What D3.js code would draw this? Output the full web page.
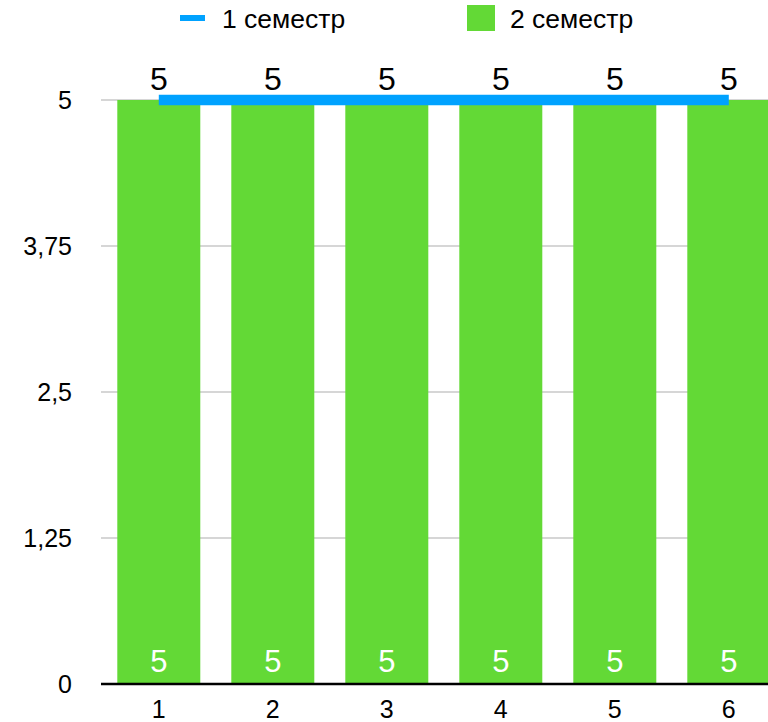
<!DOCTYPE html>
<html><head><meta charset="utf-8">
<script src="https://cdn.jsdelivr.net/npm/d3@7"></script>
<style>html,body{margin:0;padding:0;background:#fff;overflow:hidden}</style>
</head><body>
<script>
const categories = ["1","2","3","4","5","6"];
const semester1 = [5,5,5,5,5,5];
const semester2 = [5,5,5,5,5,5];
const yTicks = [0,1.25,2.5,3.75,5];
const seriesNames = ["1 семестр","2 семестр"];

const W=768,H=722;
const font="'Liberation Sans', Arial, sans-serif";
const svg=d3.select("body").append("svg").attr("width",W).attr("height",H).style("font-family",font);

const x=d3.scaleBand().domain(categories).range([101,786.6]).paddingInner(0.272).paddingOuter(0.143);
const y=d3.scaleLinear().domain([0,5]).range([684,100]);
const fmt=d=>String(d).replace(".",",");

// gridlines
svg.append("g").selectAll("line").data(yTicks.filter(d=>d>0)).join("line")
  .attr("x1",101).attr("x2",W).attr("y1",d=>y(d)).attr("y2",d=>y(d))
  .attr("stroke","#c8c8c8").attr("stroke-width",1.5);

// y labels
svg.append("g").selectAll("text").data(yTicks).join("text")
  .attr("x",72).attr("y",d=>y(d)).attr("dy","0.36em").attr("text-anchor","end")
  .attr("font-size",25).attr("fill","#000").text(fmt);

// bars
svg.append("g").selectAll("rect").data(semester2).join("rect")
  .attr("x",(d,i)=>x(categories[i])).attr("width",x.bandwidth())
  .attr("y",d=>y(d)).attr("height",d=>y(0)-y(d)).attr("fill","#63d936");

// bar labels (white, bottom)
svg.append("g").selectAll("text").data(semester2).join("text")
  .attr("x",(d,i)=>x(categories[i])+x.bandwidth()/2).attr("y",672)
  .attr("text-anchor","middle").attr("font-size",31).attr("fill","#fff").text(d=>d);

// axis line
svg.append("line").attr("x1",101).attr("x2",W).attr("y1",y(0)).attr("y2",y(0))
  .attr("stroke","#000").attr("stroke-width",2.5);

// x labels
svg.append("g").selectAll("text").data(categories).join("text")
  .attr("x",d=>x(d)+x.bandwidth()/2).attr("y",718)
  .attr("text-anchor","middle").attr("font-size",25).attr("fill","#000").text(d=>d);

// line series
const line=d3.line().x((d,i)=>x(categories[i])+x.bandwidth()/2).y(d=>y(d));
svg.append("path").datum(semester1).attr("d",line).attr("fill","none")
  .attr("stroke","#00a2ff").attr("stroke-width",10.5);

// line labels
svg.append("g").selectAll("text").data(semester1).join("text")
  .attr("x",(d,i)=>x(categories[i])+x.bandwidth()/2).attr("y",d=>y(d)-10)
  .attr("text-anchor","middle").attr("font-size",32).attr("fill","#000").text(d=>d);

// legend
const lg=svg.append("g");
lg.append("line").attr("x1",180).attr("x2",205).attr("y1",18).attr("y2",18)
  .attr("stroke","#00a2ff").attr("stroke-width",6);
lg.append("text").attr("x",222).attr("y",28).attr("font-size",26.5).text(seriesNames[0]);
lg.append("rect").attr("x",467).attr("y",5).attr("width",28).attr("height",26).attr("fill","#63d936");
lg.append("text").attr("x",510).attr("y",28).attr("font-size",26.5).text(seriesNames[1]);
</script>
</body></html>
